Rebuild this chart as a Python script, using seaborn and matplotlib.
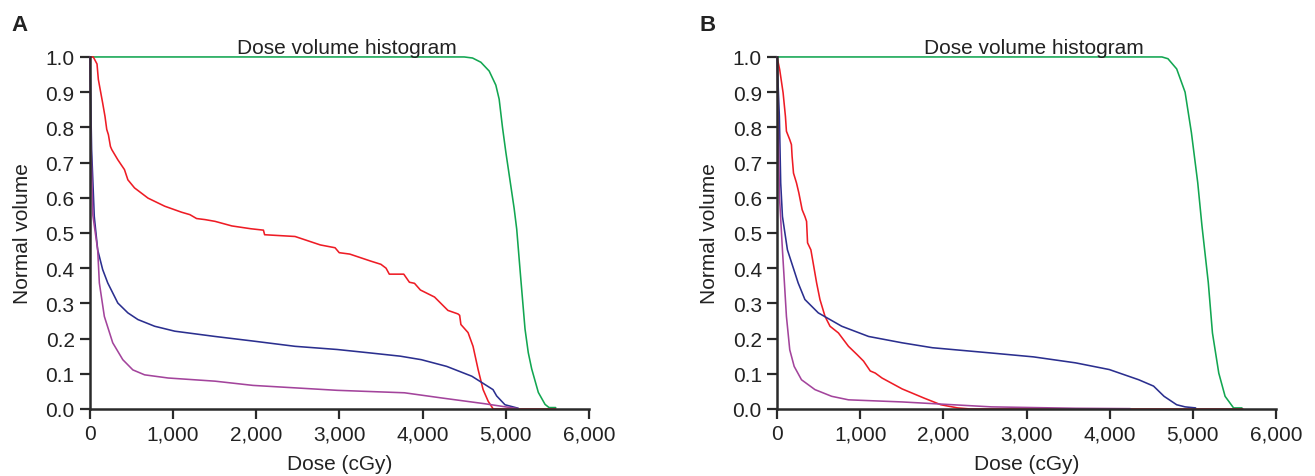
import pandas as pd
import matplotlib.pyplot as plt
import seaborn as sns
from matplotlib.ticker import FuncFormatter

# ==============================================================
# Data (dose in cGy, normalised volume)
# ==============================================================
a_green_x = [0, 4500, 4600, 4700, 4800, 4880, 4920, 4960, 5000, 5050, 5100, 5131, 5180,
             5231, 5270, 5311, 5391, 5472, 5520, 5600]
a_green_y = [1.0, 1.0, 0.997, 0.985, 0.96, 0.92, 0.88, 0.80, 0.73, 0.65, 0.57, 0.511, 0.37,
             0.227, 0.16, 0.114, 0.047, 0.013, 0.004, 0.004]

a_red_x = [0, 40, 85, 101, 153, 181, 202, 222, 246, 262, 335, 415, 456, 536, 698, 899,
           1101, 1202, 1282, 1383, 1504, 1706, 1934, 2086, 2100, 2466, 2770, 2947, 2997,
           3124, 3377, 3498, 3560, 3599, 3773, 3841, 3902, 3973, 4143, 4304, 4425, 4445,
           4460, 4546, 4606, 4667, 4727, 4788, 4848, 5600]
a_red_y = [1.0, 1.0, 0.98, 0.936, 0.869, 0.831, 0.794, 0.779, 0.746, 0.737, 0.708, 0.68,
           0.651, 0.628, 0.599, 0.576, 0.559, 0.552, 0.541, 0.538, 0.533, 0.52, 0.512,
           0.508, 0.495, 0.49, 0.466, 0.458, 0.444, 0.44, 0.42, 0.411, 0.40, 0.383, 0.383,
           0.36, 0.357, 0.338, 0.318, 0.28, 0.27, 0.266, 0.24, 0.217, 0.178, 0.112, 0.055,
           0.022, 0.0, 0.0]

a_blue_x = [0, 20, 52, 93, 153, 214, 335, 456, 577, 778, 1020, 1504, 1960, 2466, 2972,
            3377, 3732, 3985, 4289, 4592, 4846, 4890, 4990, 5150]
a_blue_y = [1.0, 0.737, 0.547, 0.452, 0.396, 0.358, 0.301, 0.273, 0.254, 0.235, 0.221,
            0.206, 0.193, 0.178, 0.169, 0.159, 0.15, 0.14, 0.121, 0.093, 0.055, 0.037,
            0.012, 0.002]

a_purple_x = [0, 12, 35, 93, 113, 173, 274, 395, 516, 657, 940, 1504, 1960, 2972, 3782,
              4238, 4744, 4997, 5150]
a_purple_y = [1.0, 0.75, 0.55, 0.452, 0.358, 0.263, 0.188, 0.14, 0.111, 0.097, 0.088,
              0.079, 0.067, 0.053, 0.046, 0.031, 0.015, 0.006, 0.001]

b_green_x = [0, 4628, 4700, 4805, 4906, 4982, 5058, 5109, 5185, 5235, 5311, 5387, 5489, 5590]
b_green_y = [1.0, 1.0, 0.995, 0.966, 0.9, 0.785, 0.643, 0.52, 0.359, 0.216, 0.102, 0.036,
             0.003, 0.003]

b_red_x = [0, 32, 73, 101, 113, 153, 173, 181, 198, 234, 262, 302, 335, 355, 367, 407,
           435, 476, 516, 577, 637, 738, 859, 960, 1040, 1121, 1181, 1262, 1504, 1767,
           1970, 2172, 2324, 5600]
b_red_y = [1.0, 0.964, 0.898, 0.831, 0.789, 0.765, 0.751, 0.718, 0.67, 0.642, 0.614,
           0.566, 0.547, 0.533, 0.472, 0.452, 0.414, 0.358, 0.311, 0.263, 0.235, 0.216,
           0.178, 0.155, 0.136, 0.108, 0.102, 0.088, 0.057, 0.031, 0.012, 0.003, 0.0, 0.0]

b_blue_x = [0, 28, 44, 65, 125, 254, 335, 496, 778, 1101, 1504, 1868, 2577, 3084, 3590,
            3995, 4349, 4527, 4653, 4805, 4906, 5033]
b_blue_y = [1.0, 0.831, 0.642, 0.547, 0.452, 0.358, 0.311, 0.273, 0.235, 0.206, 0.188,
            0.174, 0.159, 0.148, 0.131, 0.112, 0.083, 0.065, 0.036, 0.012, 0.006, 0.003]

b_purple_x = [0, 15, 30, 65, 113, 153, 206, 294, 456, 657, 859, 1504, 2577, 3590, 4248]
b_purple_y = [1.0, 0.8, 0.6, 0.452, 0.263, 0.168, 0.121, 0.083, 0.055, 0.036, 0.026,
              0.02, 0.006, 0.002, 0.001]

structures = ['PTV', 'Structure 1', 'Structure 2', 'Structure 3']
palette = {'PTV': '#12a651', 'Structure 1': '#ee1c25',
           'Structure 2': '#2b2f8f', 'Structure 3': '#a3449c'}

panels = {
    'A': [(a_green_x, a_green_y), (a_red_x, a_red_y), (a_blue_x, a_blue_y), (a_purple_x, a_purple_y)],
    'B': [(b_green_x, b_green_y), (b_red_x, b_red_y), (b_blue_x, b_blue_y), (b_purple_x, b_purple_y)],
}

# ==============================================================
# Style
# ==============================================================
sns.set_theme(style='ticks')
plt.rcParams['font.family'] = ['Liberation Sans', 'DejaVu Sans']

fig = plt.figure(figsize=(13.15, 4.77), dpi=100)
axes = [fig.add_axes([0.0684, 0.1405, 0.3795, 0.738]),
        fig.add_axes([0.5909, 0.1405, 0.3795, 0.738])]

for ax, (letter, curves) in zip(axes, panels.items()):
    rows = []
    for name, (xs, ys) in zip(structures, curves):
        for x, y in zip(xs, ys):
            rows.append({'Dose': x, 'Volume': y, 'Structure': name})
    df = pd.DataFrame(rows)
    sns.lineplot(data=df, x='Dose', y='Volume', hue='Structure', palette=palette,
                 hue_order=structures, sort=False, estimator=None, legend=False,
                 linewidth=1.15, ax=ax, clip_on=False)

    ax.set_xlim(0, 6000)
    ax.set_ylim(0, 1.0)
    ax.set_xticks(range(0, 6001, 1000))
    ax.set_yticks([i / 10 for i in range(11)])
    ax.xaxis.set_major_formatter(FuncFormatter(lambda v, p: f'{int(v):,}'))
    ax.yaxis.set_major_formatter(FuncFormatter(lambda v, p: f'{v:.1f}'))
    ax.tick_params(axis='both', direction='out', length=7, width=1.6,
                   labelsize=15, color='#2a2a2a', labelcolor='#222222', pad=4)
    for side in ['top', 'right']:
        ax.spines[side].set_visible(False)
    for side in ['left', 'bottom']:
        ax.spines[side].set_linewidth(1.8)
        ax.spines[side].set_color('#2a2a2a')
    ax.set_xlabel('Dose (cGy)', fontsize=15, color='#222222', labelpad=8)
    ax.set_ylabel('Normal volume', fontsize=15, color='#222222', labelpad=10)
    ax.set_title('Dose volume histogram', fontsize=15, color='#222222', pad=-2, x=0.515)

fig.text(0.009, 0.935, 'A', fontsize=16, fontweight='bold', color='#222222')
fig.text(0.532, 0.935, 'B', fontsize=16, fontweight='bold', color='#222222')

plt.savefig('out.png', dpi=100)
